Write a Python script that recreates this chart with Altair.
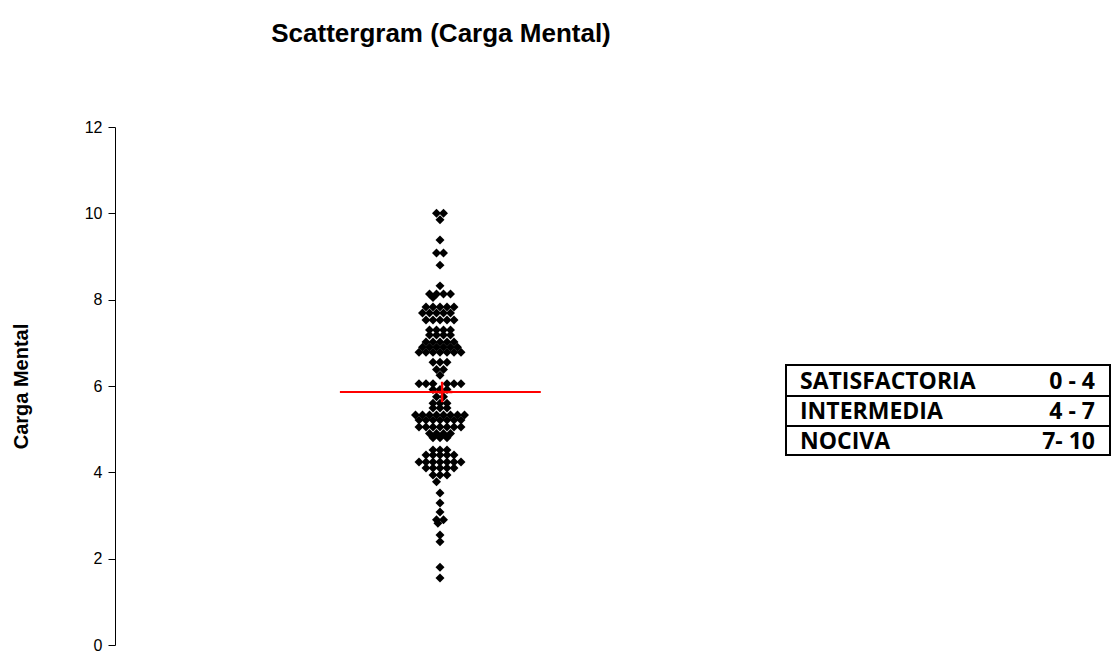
import altair as alt
import pandas as pd

# ---- data ----
TITLE = "Scattergram (Carga Mental)"
Y_TITLE = "Carga Mental"

# each row of the beeswarm: value and horizontal slot positions of its points
ROW_VALUES = [10.0, 9.85, 9.38, 9.08, 8.8, 8.32, 8.13, 8.05, 7.83, 7.69, 7.53,
              7.3, 7.18, 7.02, 6.9, 6.78, 6.55, 6.38, 6.25, 6.05, 5.92, 5.75,
              5.6, 5.49, 5.33, 5.21, 5.05, 4.9, 4.8, 4.52, 4.4, 4.24, 4.1,
              3.94, 3.78, 3.52, 3.29, 3.08, 2.9, 2.82, 2.55, 2.39, 1.8, 1.55]
ROW_SLOTS = [
    [-0.5, 0.5], [0], [0], [-0.5, 0.5], [0], [0],
    [-1.5, -0.5, 0.5, 1.5], [-1],
    [-2, -1, 0, 1, 2], [-2.5, -1.5, -0.5, 0.5, 1.5], [-2, -1, 0, 1, 2],
    [-1.5, -0.5, 0.5, 1.5], [-1.5, -0.5, 0.5, 1.5],
    [-2, -1, 0, 1, 2], [-2.5, -1.5, -0.5, 0.5, 1.5, 2.5],
    [-3, -2, -1, 0, 1, 2, 3],
    [-1, 0, 1], [-0.5, 0.5], [0],
    [-3, -2, -1, 1, 2, 3], [-1, 0, 1], [-0.5, 0.5],
    [-1, 0, 1], [-1, 0, 1],
    [-3.5, -2.5, -1.5, -0.5, 0.5, 1.5, 2.5, 3.5],
    [-3, -2, -1, 0, 1, 2, 3],
    [-3, -2, -1, 0, 1, 2, 3],
    [-1.5, -0.5, 0.5, 1.5], [-1, 0, 1],
    [-1, 0, 1], [-2, -1, 0, 1, 2],
    [-3, -2, -1, 0, 1, 2, 3], [-2, -1, 0, 1, 2],
    [-1, 0, 1], [-0.5], [0], [0], [0], [-0.5, 0.5], [-0.3], [0], [0], [0], [0],
]
MEAN = 5.86

Y_TICKS = [0, 2, 4, 6, 8, 10, 12]

TABLE_LABELS = ["SATISFACTORIA", "INTERMEDIA", "NOCIVA"]
TABLE_RANGES = ["0 - 4", "4 - 7", "7- 10"]

# ---- build table ----
vals, slots = [], []
for v, ss in zip(ROW_VALUES, ROW_SLOTS):
    for s in ss:
        vals.append(v)
        slots.append(s)
df = pd.DataFrame({"valor": vals, "slot": slots})

W, H = 650, 518
xscale = alt.Scale(domain=[-46.43, 46.43])
yscale = alt.Scale(domain=[0, 12], nice=False, zero=True)

points = alt.Chart(df).mark_point(
    shape="diamond", filled=True, color="black", size=80, opacity=1
).encode(
    x=alt.X("slot:Q", scale=xscale, axis=None),
    y=alt.Y("valor:Q", scale=yscale,
            axis=alt.Axis(values=Y_TICKS, grid=False, title=Y_TITLE,
                          domainColor="black", tickColor="black", tickSize=7,
                          labelFont="Liberation Sans", labelFontSize=16,
                          labelColor="black", labelPadding=6,
                          titleFont="Liberation Sans", titleFontSize=20,
                          titleFontWeight="bold", titleColor="black",
                          titlePadding=53)),
)

mean_line = alt.Chart(pd.DataFrame({"m": [MEAN]})).mark_rule(
    color="#ff0000", strokeWidth=2
).encode(
    y=alt.Y("m:Q", scale=yscale),
    x=alt.datum(-14.3, scale=xscale),
    x2=alt.datum(14.4),
)

mean_plus = alt.Chart(pd.DataFrame({"m": [MEAN]})).mark_point(
    shape="M-1,0H1M0,-1V1", filled=False, color="#ff0000", strokeWidth=2.5,
    size=420, opacity=1
).encode(
    y=alt.Y("m:Q", scale=yscale),
    x=alt.datum(0.3, scale=xscale),
)

title = alt.Chart(pd.DataFrame({"t": [TITLE]})).mark_text(
    font="Liberation Sans", fontSize=26, fontWeight="bold", color="black",
    align="center", baseline="alphabetic"
).encode(text="t:N", x=alt.value(326), y=alt.value(-85))

# legend table (annotation)
TX0, TX1 = 671, 995
ROW_TOPS = [238, 269, 299, 328]
table_layers = [
    alt.Chart(pd.DataFrame({"a": [0]})).mark_rect(
        filled=False, stroke="black", strokeWidth=2
    ).encode(x=alt.value(TX0), x2=alt.value(TX1),
             y=alt.value(ROW_TOPS[0]), y2=alt.value(ROW_TOPS[-1]))
]
for yy in ROW_TOPS[1:-1]:
    table_layers.append(
        alt.Chart(pd.DataFrame({"a": [0]})).mark_rule(
            color="black", strokeWidth=2
        ).encode(x=alt.value(TX0), x2=alt.value(TX1), y=alt.value(yy))
    )
for i, (lab, rng) in enumerate(zip(TABLE_LABELS, TABLE_RANGES)):
    yc = (ROW_TOPS[i] + ROW_TOPS[i + 1]) / 2 + 1
    d = pd.DataFrame({"lab": [lab], "rng": [rng]})
    table_layers.append(
        alt.Chart(d).mark_text(font="Open Sans", fontSize=23, fontWeight="bold",
                               color="black", align="left", baseline="middle")
        .encode(text="lab:N", x=alt.value(685), y=alt.value(yc))
    )
    table_layers.append(
        alt.Chart(d).mark_text(font="Open Sans", fontSize=23, fontWeight="bold",
                               color="black", align="right", baseline="middle")
        .encode(text="rng:N", x=alt.value(980), y=alt.value(yc))
    )

chart = alt.layer(points, mean_line, mean_plus, title, *table_layers).properties(
    width=W, height=H,
    background="white",
    autosize=alt.AutoSizeParams(type="none"),
    padding={"left": 107, "top": 119, "right": 347, "bottom": 10},
).configure_view(stroke="transparent", strokeWidth=0)

chart.save("out.html", embed_options={"renderer": "svg", "actions": False})
